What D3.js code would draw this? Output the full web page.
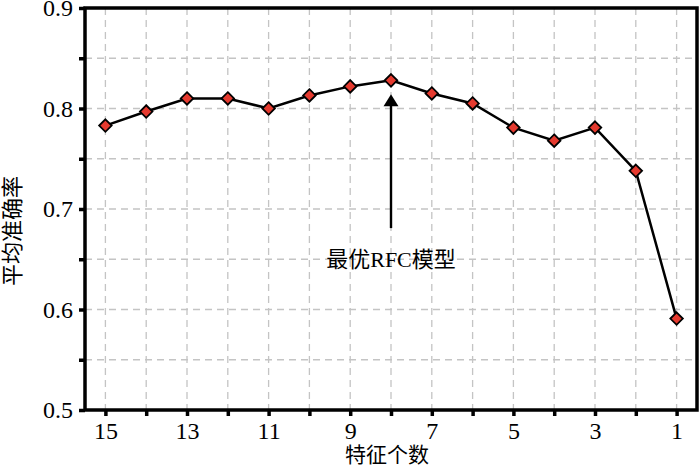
<!DOCTYPE html>
<html>
<head>
<meta charset="utf-8">
<script src="https://cdn.jsdelivr.net/npm/d3@7"></script>
<style>
  html, body { margin: 0; padding: 0; background: #fff; }
  svg { display: block; }
</style>
</head>
<body>
<svg id="chart" width="700" height="466"></svg>
<script>
// ---- data ----
const featureCounts = [15, 14, 13, 12, 11, 10, 9, 8, 7, 6, 5, 4, 3, 2, 1];
const meanAccuracy = [0.783, 0.797, 0.810, 0.810, 0.800, 0.813, 0.822, 0.828, 0.815, 0.805, 0.781, 0.768, 0.781, 0.738, 0.591];
const xTickValues = [15, 14, 13, 12, 11, 10, 9, 8, 7, 6, 5, 4, 3, 2, 1];
const xTickLabels = ["15", "", "13", "", "11", "", "9", "", "7", "", "5", "", "3", "", "1"];
const yTickValues = [0.5, 0.55, 0.6, 0.65, 0.7, 0.75, 0.8, 0.85, 0.9];
const yTickLabels = ["0.5", "", "0.6", "", "0.7", "", "0.8", "", "0.9"];
const xTitle = "特征个数";
const yTitle = "平均准确率";
const annotationFeature = [8];
const annotationText = ["最优RFC模型"];
const annotationTailValue = [0.681];
const annotationTextValue = [0.642];

// ---- layout ----
const svg = d3.select("#chart");
const mLeft = 85, mRight = 697, mTop = 8, mBottom = 410;
const x = d3.scaleLinear().domain([15.5, 0.5]).range([mLeft, mRight]);
const y = d3.scaleLinear().domain([0.5, 0.9]).range([mBottom, mTop]);
const fontStack = "'Liberation Serif', 'Times New Roman', 'Noto Sans CJK SC', serif";

// grid
const grid = svg.append("g");
grid.selectAll("line.v").data(xTickValues).join("line")
  .attr("x1", d => x(d)).attr("x2", d => x(d))
  .attr("y1", mTop).attr("y2", mBottom)
  .attr("stroke", "#c4c4c4").attr("stroke-width", 1.3).attr("stroke-dasharray", "7,5");
grid.selectAll("line.h").data(yTickValues.slice(1, -1)).join("line")
  .attr("y1", d => y(d)).attr("y2", d => y(d))
  .attr("x1", mLeft).attr("x2", mRight)
  .attr("stroke", "#c4c4c4").attr("stroke-width", 1.3).attr("stroke-dasharray", "7,5");

// axes
const xAxis = d3.axisBottom(x).tickValues(xTickValues)
  .tickFormat((d, i) => xTickLabels[i]).tickSize(6).tickSizeOuter(0).tickPadding(6);
const gx = svg.append("g").attr("transform", `translate(0,${mBottom})`).call(xAxis);
const yAxis = d3.axisLeft(y).tickValues(yTickValues)
  .tickFormat((d, i) => yTickLabels[i]).tickSize(6).tickSizeOuter(0).tickPadding(6);
const gy = svg.append("g").attr("transform", `translate(${mLeft},0)`).call(yAxis);
[gx, gy].forEach(g => {
  g.select(".domain").remove();
  g.selectAll(".tick line").attr("stroke", "#000").attr("stroke-width", 3.5);
  g.selectAll(".tick text").attr("font-family", fontStack).attr("font-size", 24).attr("fill", "#000");
});

// frame
svg.append("rect")
  .attr("x", mLeft).attr("y", mTop).attr("width", mRight - mLeft).attr("height", mBottom - mTop)
  .attr("fill", "none").attr("stroke", "#000").attr("stroke-width", 3.5);

// line
const pts = featureCounts.map((f, i) => [f, meanAccuracy[i]]);
svg.append("path").datum(pts)
  .attr("d", d3.line().x(d => x(d[0])).y(d => y(d[1])))
  .attr("fill", "none").attr("stroke", "#000").attr("stroke-width", 2.5);

// markers
svg.selectAll("path.m").data(pts).join("path")
  .attr("class", "m")
  .attr("d", d3.symbol().type(d3.symbolDiamond2).size(100))
  .attr("transform", d => `translate(${x(d[0])},${y(d[1])})`)
  .attr("fill", "#e53a2f").attr("stroke", "#000").attr("stroke-width", 1.8);

// annotation
annotationFeature.forEach((f, i) => {
  const idx = featureCounts.indexOf(f);
  const ax = x(f);
  const tipY = y(meanAccuracy[idx]) + 14;
  const tailY = y(annotationTailValue[i]);
  svg.append("line").attr("x1", ax).attr("x2", ax).attr("y1", tipY + 10).attr("y2", tailY)
    .attr("stroke", "#000").attr("stroke-width", 2.4);
  svg.append("path")
    .attr("d", `M${ax},${tipY} L${ax - 7.5},${tipY + 12} L${ax + 7.5},${tipY + 12} Z`)
    .attr("fill", "#000");
  svg.append("text").attr("x", ax).attr("y", y(annotationTextValue[i]))
    .attr("text-anchor", "middle").attr("font-family", fontStack).attr("font-size", 22)
    .text(annotationText[i]);
});

// titles
svg.append("text").attr("x", 387).attr("y", 462)
  .attr("text-anchor", "middle").attr("font-family", fontStack).attr("font-size", 21)
  .text(xTitle);
svg.append("text")
  .attr("transform", `translate(20,${(mTop + mBottom) / 2 + 22}) rotate(-90)`)
  .attr("text-anchor", "middle").attr("font-family", fontStack).attr("font-size", 22)
  .text(yTitle);
</script>
</body>
</html>
